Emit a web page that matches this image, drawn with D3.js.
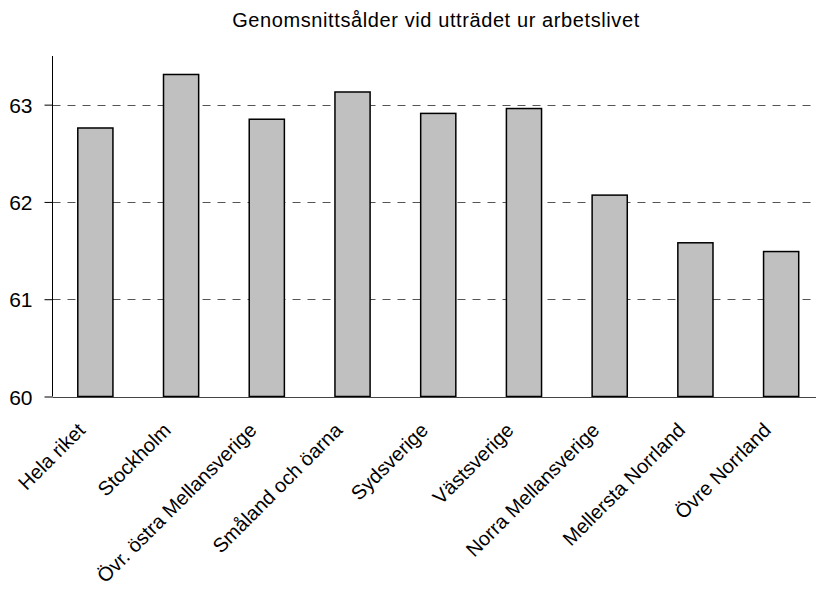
<!DOCTYPE html>
<html>
<head>
<meta charset="utf-8">
<script src="https://cdn.jsdelivr.net/npm/d3@7"></script>
<style>
  html, body { margin: 0; padding: 0; background: #fff; }
  svg { display: block; }
  text { font-family: "Liberation Sans", Arial, sans-serif; fill: #000; }
</style>
</head>
<body>
<svg id="chart" width="816" height="592"></svg>
<script>
const title = "Genomsnittsålder vid utträdet ur arbetslivet";
const categories = ["Hela riket", "Stockholm", "Övr. östra Mellansverige", "Småland och öarna",
  "Sydsverige", "Västsverige", "Norra Mellansverige", "Mellersta Norrland", "Övre Norrland"];
const values = [62.76, 63.31, 62.85, 63.13, 62.91, 62.96, 62.07, 61.58, 61.49];
const yTicks = [60, 61, 62, 63];
const yDomain = [60, 63.5];

const svg = d3.select("#chart");
const axisX = 52.5, plotTop = 56, plotBottom = 396.5;

const x = d3.scaleBand().domain(categories).range([axisX, 824])
  .paddingInner(0.59).paddingOuter(0.295);
const y = d3.scaleLinear().domain(yDomain).range([plotBottom, plotTop]);

// gridlines
svg.append("g").selectAll("line").data(yTicks.filter(t => t !== 60)).join("line")
  .attr("x1", axisX).attr("x2", 816)
  .attr("y1", d => Math.round(y(d)) + 0.5).attr("y2", d => Math.round(y(d)) + 0.5)
  .attr("stroke", "#555").attr("stroke-width", 1).attr("stroke-dasharray", "8,7");

// bars
svg.append("g").selectAll("rect").data(values).join("rect")
  .attr("x", (d, i) => x(categories[i]))
  .attr("y", d => y(d))
  .attr("width", x.bandwidth())
  .attr("height", d => y(yDomain[0]) - y(d))
  .attr("fill", "#c0c0c0").attr("stroke", "#000").attr("stroke-width", 1.5);

// y axis
const yAxis = d3.axisLeft(y).tickValues(yTicks).tickSize(8).tickPadding(12).tickFormat(d3.format("d"));
const gy = svg.append("g").attr("transform", `translate(${axisX},0)`).call(yAxis);
gy.select(".domain").attr("stroke", "#000").attr("d", `M0,${plotTop}V${plotBottom}`);
gy.selectAll(".tick line").attr("stroke", "#000");
gy.selectAll(".tick text").attr("font-size", 21).attr("font-family", "Liberation Sans, Arial, sans-serif")
  .attr("fill", "#000").attr("dy", "0.36em");

// x axis line
svg.append("line").attr("x1", axisX).attr("x2", 816)
  .attr("y1", Math.round(y(60)) + 0.5).attr("y2", Math.round(y(60)) + 0.5)
  .attr("stroke", "#444").attr("stroke-width", 1);

// category labels
svg.append("g").selectAll("text").data(categories).join("text")
  .attr("transform", d => `translate(${x(d) + x.bandwidth() / 2 - 9},${plotBottom + 35}) rotate(-45)`)
  .attr("text-anchor", "end")
  .attr("font-size", 20)
  .text(d => d);

// title
svg.append("text").attr("x", 436).attr("y", 27).attr("text-anchor", "middle")
  .attr("font-size", 20).attr("letter-spacing", "0.6px").text(title);
</script>
</body>
</html>
